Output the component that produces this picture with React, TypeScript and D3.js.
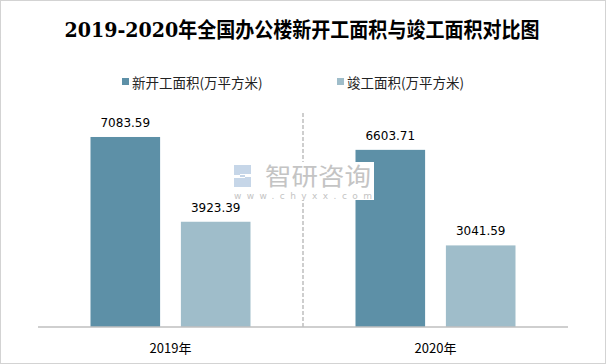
import { useEffect, useRef } from "react"
import * as d3 from "d3"

const title = "2019-2020年全国办公楼新开工面积与竣工面积对比图"
const years = ["2019年", "2020年"]
const seriesNames = ["新开工面积(万平方米)", "竣工面积(万平方米)"]
const newStart = [7083.59, 6603.71]
const completed = [3923.39, 3041.59]
const colors = ["#5d90a7", "#9fbdca"]

export default function App() {
  const svgRef = useRef<SVGSVGElement>(null)

  useEffect(() => {
    if (!svgRef.current) return
    d3.select(svgRef.current).selectAll("*").remove()

    const width = 606
    const height = 364
    const svg = d3.select(svgRef.current).attr("width", width).attr("height", height)

    // 背景與邊框
    svg.append("rect").attr("width", width).attr("height", height).attr("fill", "#fff")
    svg.append("rect")
      .attr("x", 0.5).attr("y", 0.5)
      .attr("width", width - 1).attr("height", height - 1)
      .attr("fill", "none").attr("stroke", "#a6a6a6").attr("stroke-dasharray", "1,1")

    // 標題
    svg.append("text")
      .attr("x", 302).attr("y", 37)
      .attr("text-anchor", "middle")
      .attr("font-family", "'DejaVu Serif', 'Liberation Serif', 'Noto Sans CJK SC', serif")
      .attr("font-weight", "bold")
      .attr("font-size", 21)
      .attr("textLength", 475)
      .attr("lengthAdjust", "spacingAndGlyphs")
      .attr("fill", "#000")
      .text(title)

    // 圖例
    const legendX = [122, 337]
    seriesNames.forEach((name, i) => {
      svg.append("rect").attr("x", legendX[i]).attr("y", 78).attr("width", 7).attr("height", 7).attr("fill", colors[i])
      svg.append("text")
        .attr("x", legendX[i] + 10).attr("y", 88)
        .attr("font-family", "'Noto Sans CJK SC', sans-serif")
        .attr("font-size", 13.5)
        .attr("fill", "#222")
        .text(name)
    })

    const left = 38, right = 568, bottom = 327
    const x0 = d3.scaleBand<string>().domain(years).range([left, right])
    const x1 = d3.scaleBand<string>().domain(seriesNames)
      .range([52.5, x0.bandwidth() - 52.5]).paddingInner(0.23)
    const y = d3.scaleLinear().domain([0, 8000]).range([bottom, bottom - 214.6])

    // 分隔虛線
    svg.append("line")
      .attr("x1", left + x0.bandwidth()).attr("x2", left + x0.bandwidth())
      .attr("y1", 113).attr("y2", bottom)
      .attr("stroke", "#bfbfbf").attr("stroke-width", 1.5).attr("stroke-dasharray", "4,2")

    const rows = years.map((yr, i) => ({ yr, vals: [newStart[i], completed[i]] }))
    rows.forEach(r => {
      r.vals.forEach((v, j) => {
        const bx = (x0(r.yr) || 0) + (x1(seriesNames[j]) || 0)
        svg.append("rect")
          .attr("x", bx).attr("y", y(v))
          .attr("width", x1.bandwidth()).attr("height", bottom - y(v))
          .attr("fill", colors[j])
        svg.append("text")
          .attr("x", bx + x1.bandwidth() / 2).attr("y", y(v) - 10)
          .attr("text-anchor", "middle")
          .attr("font-family", "'DejaVu Sans', 'Noto Sans', sans-serif")
          .attr("font-size", 12)
          .attr("fill", "#000")
          .text(v.toFixed(2))
      })
    })

    // X 軸
    svg.append("line")
      .attr("x1", left).attr("x2", right).attr("y1", bottom).attr("y2", bottom)
      .attr("stroke", "#bfbfbf").attr("stroke-width", 1.5)
    years.forEach(yr => {
      svg.append("text")
        .attr("x", (x0(yr) || 0) + x0.bandwidth() / 2).attr("y", 353)
        .attr("text-anchor", "middle")
        .attr("font-family", "'Noto Sans CJK SC', sans-serif")
        .attr("font-size", 13)
        .attr("fill", "#000")
        .text(yr)
    })

    // 浮水印
    const wm = svg.append("g")
    wm.append("rect").attr("x", 233).attr("y", 162).attr("width", 141).attr("height", 38).attr("fill", "#fff")
    wm.append("path")
      .attr("d", "M234,165 h17 v9 h-11 v3 h11 v10 h-17 v-9 h11 v-3 h-11 z")
      .attr("fill", "#c6d6e8")
    wm.append("text")
      .attr("x", 265).attr("y", 185)
      .attr("font-family", "'Noto Sans CJK SC', sans-serif")
      .attr("font-size", 24)
      .attr("textLength", 106)
      .attr("lengthAdjust", "spacingAndGlyphs")
      .attr("fill", "#c4c4c4")
      .text("智研咨询")
    wm.append("text")
      .attr("x", 234).attr("y", 199)
      .attr("font-family", "'DejaVu Sans', sans-serif")
      .attr("font-size", 9)
      .attr("textLength", 138)
      .attr("lengthAdjust", "spacing")
      .attr("fill", "#c4c4c4")
      .text("www.chyxx.com")
  }, [])

  return (
    <div style={{ position: "absolute", left: 0, top: 0 }}>
      <svg ref={svgRef}></svg>
    </div>
  )
}
